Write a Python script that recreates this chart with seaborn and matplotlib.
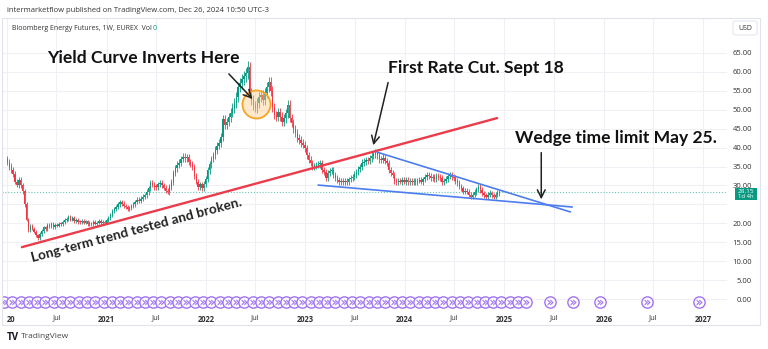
import matplotlib
matplotlib.use("Agg")
import matplotlib.pyplot as plt
import numpy as np
import pandas as pd
import seaborn as sns
from matplotlib.patches import Rectangle, FancyBboxPatch

W, H = 768, 349

# ---------------- data ----------------
c2020 = [36.2, 35.0, 34.0, 33.0, 31.0, 30.2, 31.4, 30.0, 28.5, 25.0,
         21.0, 18.2, 19.4, 18.6, 17.8, 16.9, 16.1, 17.2, 18.0, 18.9,
         18.5, 19.5, 19.2, 19.8, 19.0, 19.6, 19.4, 19.9, 19.7, 20.3,
         20.8, 21.2, 21.7, 21.0, 21.4, 20.6, 20.9, 20.4, 20.3, 20.7,
         20.2, 20.5, 19.8, 20.0, 19.7, 20.3, 19.9, 20.2, 20.6, 20.0,
         20.4, 20.2]
c2021 = [20.8, 21.5, 22.3, 23.2, 23.8, 24.3, 25.0, 25.6, 25.2, 24.6,
         24.3, 23.9, 24.0, 24.6, 25.0, 25.6, 26.2, 26.0, 26.5, 27.0,
         27.4, 28.3, 29.2, 30.6, 30.2, 29.6, 29.5, 30.3, 30.6, 30.0,
         29.4, 28.6, 28.3, 29.6, 31.0, 33.3, 34.5, 35.5, 36.0, 37.0,
         37.6, 37.2, 37.5, 36.2, 35.6, 34.9, 32.5, 31.0, 29.6, 30.3,
         29.3, 30.4]
c2022 = [31.8, 34.0, 35.6, 37.0, 38.0, 39.4, 40.5, 41.2, 42.8, 47.5,
         46.0, 46.8, 48.0, 49.2, 50.5, 51.8, 53.4, 56.0, 57.0, 58.0,
         58.8, 59.7, 61.3, 54.5, 52.6, 51.2, 50.5, 51.8, 53.4, 54.0,
         52.6, 54.5, 56.0, 57.3, 55.0, 50.7, 48.6, 48.1, 49.4, 48.2,
         46.8, 47.8, 49.1, 51.3, 47.8, 46.5, 45.0, 43.9, 42.5, 42.0,
         41.2, 40.8]
c2023 = [39.9, 38.0, 36.8, 35.9, 34.9, 35.2, 35.4, 35.6, 35.9, 34.2,
         33.6, 32.0, 33.3, 33.8, 34.1, 32.8, 32.0, 31.4, 30.9, 31.2,
         30.8, 31.1, 30.9, 31.6, 32.0, 32.2, 32.9, 33.6, 34.4, 34.9,
         36.0, 36.3, 36.7, 36.5, 37.2, 37.8, 38.2, 38.6, 38.0, 36.9,
         36.7, 37.3, 36.5, 35.9, 34.1, 33.4, 32.8, 31.2, 30.9, 31.3,
         31.0, 31.4]
c2024 = [31.0, 31.5, 30.9, 31.2, 30.8, 31.1, 30.9, 31.3, 31.4, 31.0,
         31.6, 32.2, 32.8, 32.5, 32.0, 32.2, 31.8, 32.4, 32.2, 31.9,
         30.9, 31.3, 31.8, 32.4, 32.8, 32.3, 32.0, 31.2, 30.6, 29.8,
         29.3, 28.3, 28.6, 28.3, 27.6, 27.0, 27.6, 28.3, 29.0, 29.6,
         28.8, 28.0, 27.4, 27.0, 27.5, 28.0, 27.4, 27.0, 27.6, 28.0,
         28.15]
closes = c2020 + c2021 + c2022 + c2023 + c2024
first_open = 37.0
first_week = "2020-01-03"
last_price = 28.15

price_ticks = [0, 5, 10, 15, 20, 25, 30, 35, 40, 45, 50, 55, 60, 65]
hidden_price_ticks = [25]  # covered by the last-price tag
time_ticks = ["2020-01-01", "2020-07-01", "2021-01-01", "2021-07-01", "2022-01-01",
              "2022-07-01", "2023-01-01", "2023-07-01", "2024-01-01", "2024-07-01",
              "2025-01-01", "2025-07-01", "2026-01-01", "2026-07-01", "2027-01-01"]
time_labels = ["20", "Jul", "2021", "Jul", "2022", "Jul", "2023", "Jul", "2024",
               "Jul", "2025", "Jul", "2026", "Jul", "2027"]

roll_dense = pd.date_range("2019-12-01", "2025-03-01", freq="MS") + pd.Timedelta(days=20)
roll_sparse = pd.to_datetime(["2025-06-17", "2025-09-10", "2025-12-17",
                              "2026-06-10", "2026-12-16"])
roll_level = -0.8

red_trend_x = ["2020-02-25", "2024-12-05"]
red_trend_y = [13.7, 47.8]
wedge_top_x = ["2023-09-21", "2025-08-31"]
wedge_top_y = [38.8, 23.0]
wedge_bot_x = ["2023-02-17", "2025-09-07"]
wedge_bot_y = [30.1, 24.3]
circle_x, circle_y = "2022-07-04", 51.5

notes = [
    ("Yield Curve Inverts Here", "2021-05-15", 63.7),
    ("First Rate Cut. Sept 18", "2024-09-17", 61.0),
    ("Wedge time limit May 25.", "2026-02-16", 42.5),
]
arrows = [
    (("2022-03-19", 60.0), ("2022-06-28", 52.3)),
    (("2023-11-03", 57.9), ("2023-09-05", 39.9)),
    (("2025-05-16", 39.4), ("2025-05-16", 25.6)),
]
trend_note = ("Long-term trend tested and broken.", "2021-04-20", 18.2)

# ---------------- style ----------------
sns.set_theme(style="white")
plt.rcParams["font.family"] = ["Open Sans", "DejaVu Sans"]
GREEN, RED = "#089981", "#F23645"
PURPLE = "#A274F2"
GRID = "#EEF0F5"
TXT = "#333333"

fig = plt.figure(figsize=(W / 100, H / 100), dpi=100)
fig.patch.set_facecolor("white")


def fx(px):
    return px / W


def fy(py):
    return 1 - py / H


ax = fig.add_axes([fx(2), fy(309), (727 - 2) / W, (309 - 18) / H])
ax.set_facecolor("white")
for s in ax.spines.values():
    s.set_visible(False)

# candles
dates = pd.date_range(first_week, periods=len(closes), freq="7D")
c = np.array(closes)
o = np.array([first_open] + closes[:-1])
up = c >= o
cols = np.where(up, GREEN, RED)
body_lo = np.minimum(o, c)
body_h = np.maximum(np.abs(c - o), 0.25)
wick = 0.024 * c
ax.vlines(dates, body_lo - wick, np.maximum(o, c) + wick, colors=cols, lw=0.6, zorder=2)
ax.bar(dates, body_h, bottom=body_lo, width=5.0, color=cols, lw=0, zorder=2)

# last price dotted line
ax.axhline(last_price, color="#6CC5B8", ls=(0, (1, 1.6)), lw=0.8, zorder=1)

# orange circle
ax.scatter([pd.Timestamp(circle_x)], [circle_y], s=(28 * 0.72) ** 2,
           facecolor=(1.0, 0.80, 0.55, 0.45), edgecolor="#F5A524", lw=1.3, zorder=3)

# trend lines
sns.lineplot(x=pd.to_datetime(red_trend_x), y=red_trend_y, ax=ax, color="#EC3B4B", lw=1.7, zorder=4)
sns.lineplot(x=pd.to_datetime(wedge_top_x), y=wedge_top_y, ax=ax, color="#4C7DF0", lw=1.2, zorder=4)
sns.lineplot(x=pd.to_datetime(wedge_bot_x), y=wedge_bot_y, ax=ax, color="#4C7DF0", lw=1.2, zorder=4)

# rollover markers
roll_all = list(roll_dense) + list(roll_sparse)
roll_df = pd.DataFrame({"date": roll_all, "level": [roll_level] * len(roll_all)})
sns.scatterplot(data=roll_df, x="date", y="level", ax=ax, marker="o", s=66,
                facecolor="white", edgecolor=PURPLE, linewidth=1.0, zorder=5)
ax.scatter(roll_df["date"], roll_df["level"], marker="$»$", s=16, color=PURPLE, lw=0.2, zorder=6)

# annotations
for txt, d, p in notes:
    ax.text(pd.Timestamp(d), p, txt, ha="center", va="center", fontsize=12.6,
            family=["Lato", "DejaVu Sans"], fontweight="bold", color="#111111", zorder=7)
for (d0, p0), (d1, p1) in arrows:
    ax.annotate("", xy=(pd.Timestamp(d1), p1), xytext=(pd.Timestamp(d0), p0),
                arrowprops=dict(arrowstyle="->", color="#222222", lw=1.1, mutation_scale=14),
                zorder=7)
ax.text(pd.Timestamp(trend_note[1]), trend_note[2], trend_note[0], ha="center", va="center",
        rotation=15, fontsize=9.8, family=["Lato", "DejaVu Sans"], fontweight="bold",
        color="#222222", zorder=7)

# axes
ax.set_xlim(pd.Timestamp("2019-12-14"), pd.Timestamp("2027-03-29"))
ax.set_ylim(-2.64, 74.24)
ax.set_xticks(pd.to_datetime(time_ticks))
ax.set_xticklabels(time_labels)
ax.set_yticks(price_ticks)
ax.set_yticklabels(["" if v in hidden_price_ticks else f"{v:.2f}" for v in price_ticks])
ax.yaxis.tick_right()
ax.tick_params(axis="y", length=0, pad=18, labelsize=5.5, labelcolor=TXT)
ax.tick_params(axis="x", length=0, pad=4, labelsize=5.5, labelcolor=TXT)
for lab in ax.get_yticklabels():
    lab.set_ha("right")
for i, lab in enumerate(ax.get_xticklabels()):
    if time_labels[i] != "Jul":
        lab.set_fontweight("bold")
ax.get_xticklabels()[0].set_ha("left")
ax.grid(True, color=GRID, lw=0.8, zorder=0)
ax.set_axisbelow(True)
ax.set_xlabel("")
ax.set_ylabel("")

# frame & header
fig.patches.append(Rectangle((fx(2), fy(325)), (760 - 2) / W, (325 - 18) / H,
                             transform=fig.transFigure, fill=False, ec="#E0E3EB", lw=0.8))
fig.text(fx(7), fy(10), "intermarketflow published on TradingView.com, Dec 26, 2024 10:50 UTC-3",
         fontsize=5.5, color=TXT, va="center")
hdr = fig.text(fx(12), fy(28), "Bloomberg Energy Futures, 1W, EUREX  Vol", fontsize=5.0,
               color=TXT, va="center")
fig.add_artist(matplotlib.text.Annotation("0", xy=(1, 0.5), xycoords=hdr, xytext=(0.6, 0),
                                          textcoords="offset points", fontsize=5.0,
                                          color=GREEN, va="center", ha="left"))

fig.patches.append(FancyBboxPatch((fx(733), fy(35)), 24 / W, 14 / H,
                                  boxstyle="round,pad=0,rounding_size=0.004",
                                  transform=fig.transFigure, fc="white", ec="#E0E3EB", lw=0.7))
fig.text(fx(745), fy(28), "USD", fontsize=5, color=TXT, ha="center", va="center")

fig.patches.append(Rectangle((fx(735), fy(200)), 22 / W, 12 / H, transform=fig.transFigure,
                             fc=GREEN, ec="none", zorder=10))
fig.text(fx(746), fy(191.5), f"{last_price:.2f}", fontsize=4.6, color="white",
         ha="center", va="center", zorder=11)
fig.text(fx(746), fy(197), "1d 4h", fontsize=4.2, color="white", ha="center", va="center", zorder=11)

fig.text(fx(7), fy(337), "TV", fontsize=7, fontweight="bold", color="#131722", va="center")
fig.text(fx(21), fy(337), "TradingView", fontsize=6, color="#444444", va="center")

fig.savefig("out.png", dpi=100, facecolor="white")
